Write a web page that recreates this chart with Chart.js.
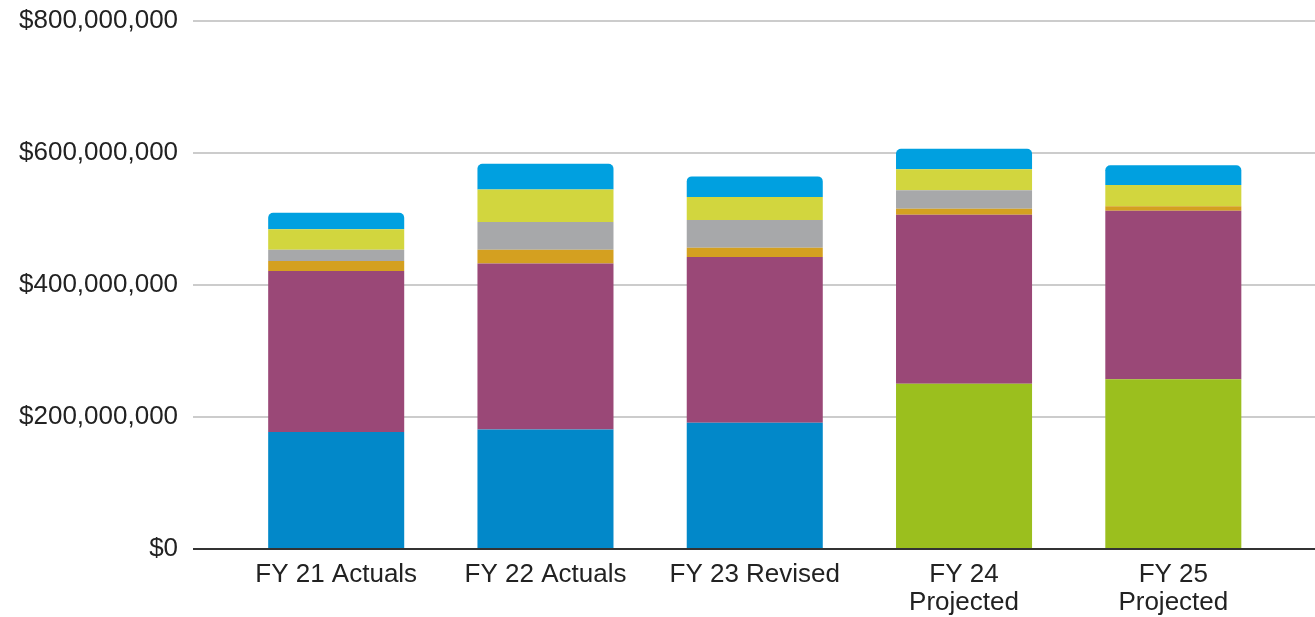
<!DOCTYPE html>
<html>
<head>
<meta charset="utf-8">
<script src="https://cdn.jsdelivr.net/npm/chart.js@4"></script>
<style>
  html, body { margin: 0; padding: 0; background: #ffffff; }
  #wrap { width: 1315px; height: 617px; position: relative; }
</style>
</head>
<body>
<div id="wrap"><canvas id="c"></canvas></div>
<script>
// Categories (x tick labels)
const categories = [["FY 21 Actuals"], ["FY 22 Actuals"], ["FY 23 Revised"], ["FY 24", "Projected"], ["FY 25", "Projected"]];

// Series values, in millions of dollars (bottom to top of each stack)
const baseActual    = [177, 181, 191, null, null];
const baseProjected = [null, null, null, 250, 257];
const purpleSeries  = [244, 251, 251, 256, 255];
const goldSeries    = [15, 21, 14, 9, 7];
const graySeries    = [17, 42, 42, 28, 0];
const yellowSeries  = [31, 49, 35, 32, 32];
const topBlueSeries = [25, 39, 31, 31, 30];

// Y tick values, in millions
const yTicks = [0, 200, 400, 600, 800];

const toPoints = arr => arr.map((v, i) => ({ x: i, y: v }));
const FONT = { family: "'Liberation Sans', Arial, sans-serif", size: 26, lineHeight: 1.08 };

const ds = (data, color, extra) => Object.assign({
  data: toPoints(data),
  backgroundColor: color,
  borderWidth: 0,
  barPercentage: 1,
  categoryPercentage: 0.65
}, extra || {});

new Chart(document.getElementById('c'), {
  type: 'bar',
  data: {
    datasets: [
      ds(baseActual, '#0288c9'),
      ds(baseProjected, '#9bbf1e'),
      ds(purpleSeries, '#9a4877'),
      ds(goldSeries, '#d4a020'),
      ds(graySeries, '#a7a8aa'),
      ds(yellowSeries, '#d2d63e'),
      ds(topBlueSeries, '#00a0e0', { borderRadius: { topLeft: 5, topRight: 5, bottomLeft: 0, bottomRight: 0 } })
    ]
  },
  options: {
    responsive: true,
    maintainAspectRatio: false,
    animation: false,
    layout: { padding: { left: 4, right: 0, top: 0, bottom: 0 } },
    plugins: { legend: { display: false }, tooltip: { enabled: false } },
    scales: {
      x: {
        type: 'linear',
        stacked: true,
        offset: false,
        min: -0.684,
        max: 4.677,
        afterBuildTicks: s => { s.ticks = categories.map((_, i) => ({ value: i })); },
        afterFit: s => { s.height = 68; },
        grid: { display: false, drawTicks: false },
        border: { display: false },
        ticks: {
          padding: 12,
          color: '#222222',
          font: FONT,
          maxRotation: 0,
          autoSkip: false,
          callback: v => categories[v]
        }
      },
      y: {
        stacked: true,
        min: 0,
        max: 800,
        afterBuildTicks: s => { s.ticks = yTicks.map(v => ({ value: v })); },
        afterFit: s => { s.paddingTop = 20.5; s.paddingBottom = 0; },
        border: { display: false },
        grid: {
          drawTicks: false,
          lineWidth: 2,
          color: c => (c.tick && c.tick.value === 0) ? '#333333' : '#cccccc'
        },
        ticks: {
          padding: 15,
          color: '#222222',
          font: FONT,
          callback: v => '$' + (v * 1e6).toLocaleString('en-US')
        }
      }
    }
  }
});
</script>
</body>
</html>
